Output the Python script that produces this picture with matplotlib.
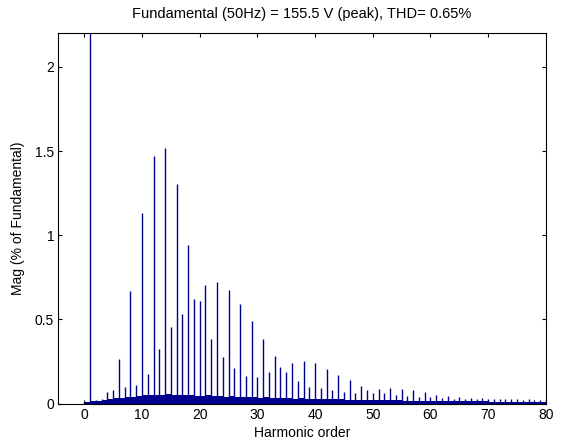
import matplotlib.pyplot as plt
import numpy as np

plt.rcParams['font.family'] = ['Liberation Sans', 'DejaVu Sans']

# harmonic magnitudes, % of fundamental, orders 0..80
orders = np.arange(0, 81)
mag = [0.01, 100.0, 0.02, 0.03, 0.07, 0.08, 0.265, 0.10, 0.667, 0.113,
       1.135, 0.178, 1.47, 0.326, 1.517, 0.453, 1.306, 0.532, 0.944, 0.62,
       0.607, 0.706, 0.386, 0.72, 0.275, 0.677, 0.21, 0.59, 0.166, 0.49,
       0.16, 0.386, 0.19, 0.28, 0.215, 0.19, 0.24, 0.137, 0.25, 0.10,
       0.24, 0.09, 0.205, 0.08, 0.17, 0.07, 0.14, 0.06, 0.105, 0.08,
       0.065, 0.085, 0.06, 0.09, 0.05, 0.085, 0.045, 0.08, 0.04, 0.07,
       0.04, 0.05, 0.035, 0.045, 0.03, 0.04, 0.03, 0.035, 0.03, 0.035,
       0.025, 0.03, 0.025, 0.03, 0.025, 0.03, 0.02, 0.025, 0.02, 0.02,
       0.02]

# interharmonic floor level, one value per interval [h, h+1], h = 0..79
floor_lvl = [0.012, 0.015, 0.018, 0.022, 0.028, 0.033, 0.036, 0.04,
             0.042, 0.045, 0.048, 0.05, 0.052, 0.05, 0.055, 0.05, 0.052, 0.048,
             0.05, 0.047, 0.045, 0.048, 0.044, 0.046, 0.042, 0.044, 0.04, 0.042,
             0.038, 0.04,
             0.036, 0.038, 0.034, 0.036, 0.032, 0.034, 0.03, 0.032, 0.028, 0.03,
             0.028, 0.027, 0.026, 0.026, 0.025, 0.024, 0.024, 0.023, 0.022, 0.022,
             0.021, 0.02, 0.02, 0.019, 0.019, 0.018, 0.018, 0.017, 0.017, 0.016,
             0.016, 0.015, 0.015, 0.015, 0.014, 0.014, 0.014, 0.013, 0.013, 0.013,
             0.012, 0.012, 0.012, 0.012, 0.011, 0.011, 0.011, 0.011, 0.01, 0.01]

title = 'Fundamental (50Hz) = 155.5 V (peak), THD= 0.65%'
navy = '#00008f'

fig = plt.figure(figsize=(5.61, 4.43), dpi=100)
ax = fig.add_axes([0.104, 0.089, 0.869, 0.836])

# floor between harmonics
ax.bar(np.arange(len(floor_lvl)) + 0.5, floor_lvl, width=1.0,
       color=navy, linewidth=0)
# harmonic bars
ax.vlines(orders, 0, mag, colors=navy, linewidth=1.0)

ax.set_xlim(-4.5, 80)
ax.set_ylim(0, 2.2)
ax.set_xticks(range(0, 81, 10))
ax.set_yticks([0, 0.5, 1, 1.5, 2])
ax.set_yticklabels(['0', '0.5', '1', '1.5', '2'])
ax.tick_params(direction='in', top=True, right=True, length=3,
               labelsize=10, pad=3)
for s in ax.spines.values():
    s.set_linewidth(0.8)

ax.set_xlabel('Harmonic order', fontsize=10, labelpad=3)
ax.set_ylabel('Mag (% of Fundamental)', fontsize=10, labelpad=7)
ax.set_title(title, fontsize=10.5, pad=11)

fig.savefig('out.png', dpi=100)
